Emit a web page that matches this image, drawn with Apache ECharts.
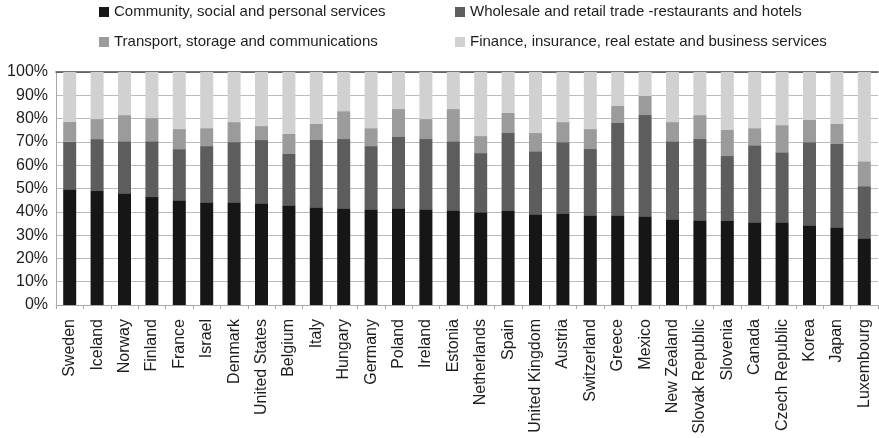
<!DOCTYPE html>
<html>
<head>
<meta charset="utf-8">
<script src="https://cdn.jsdelivr.net/npm/echarts@6/dist/echarts.min.js"></script>
<style>
  html, body { margin: 0; padding: 0; background: #fff; }
  #chart { width: 879px; height: 438px; }
</style>
</head>
<body>
<div id="chart"></div>
<script>
// Countries, ordered by the share of community, social and personal services
const countries = ['Sweden', 'Iceland', 'Norway', 'Finland', 'France', 'Israel', 'Denmark',
  'United States', 'Belgium', 'Italy', 'Hungary', 'Germany', 'Poland', 'Ireland', 'Estonia',
  'Netherlands', 'Spain', 'United Kingdom', 'Austria', 'Switzerland', 'Greece', 'Mexico',
  'New Zealand', 'Slovak Republic', 'Slovenia', 'Canada', 'Czech Republic', 'Korea', 'Japan',
  'Luxembourg'];

// Sector shares (% of total), one value per country
const community = [49.7, 48.9, 48.0, 46.3, 45.0, 44.1, 44.1, 43.7, 42.8, 42.0, 41.5, 41.1, 41.5, 41.1, 40.7,
  39.8, 40.3, 39.0, 39.4, 38.5, 38.5, 38.1, 36.8, 36.4, 36.0, 35.5, 35.5, 34.2, 33.4, 28.7];
const wholesale = [20.4, 22.3, 22.3, 24.0, 21.9, 24.1, 25.8, 27.1, 22.0, 28.8, 29.7, 27.1, 30.6, 30.1, 29.6,
  25.4, 33.5, 27.0, 30.5, 28.4, 39.6, 43.4, 33.5, 34.8, 27.9, 33.1, 30.1, 35.7, 35.7, 22.3];
const transport = [8.6, 8.6, 11.2, 9.9, 8.6, 7.7, 8.6, 6.0, 8.6, 6.9, 12.0, 7.7, 12.0, 8.6, 13.8,
  7.3, 8.6, 7.8, 8.6, 8.6, 7.3, 8.2, 8.2, 10.3, 11.2, 7.3, 11.6, 9.5, 8.6, 10.7];
const finance = [21.3, 20.2, 18.5, 19.8, 24.5, 24.1, 21.5, 23.2, 26.6, 22.3, 16.8, 24.1, 15.9, 20.2, 15.9,
  27.5, 17.6, 26.2, 21.5, 24.5, 14.6, 10.3, 21.5, 18.5, 24.9, 24.1, 22.8, 20.6, 22.3, 38.3];

const yTicks = [0, 10, 20, 30, 40, 50, 60, 70, 80, 90, 100];

const seriesNames = [
  'Community, social and personal services',
  'Wholesale and retail trade -restaurants and hotels',
  'Transport, storage and communications',
  'Finance, insurance, real estate and business services'
];
const seriesData = [community, wholesale, transport, finance];
const colors = ['#161616', '#5d5d5d', '#9b9b9b', '#d0d1d0'];

const FONT = 'Liberation Sans, Arial, sans-serif';
const TEXT = '#1e1e1e';

const legendPos = [
  { left: 99, top: 4 },
  { left: 455, top: 4 },
  { left: 99, top: 34 },
  { left: 455, top: 34 }
];

const chart = echarts.init(document.getElementById('chart'), null, { renderer: 'canvas' });

chart.setOption({
  animation: false,
  backgroundColor: '#fff',
  color: colors,
  legend: seriesNames.map((name, i) => ({
    data: [name],
    left: legendPos[i].left,
    top: legendPos[i].top,
    padding: 0,
    icon: 'rect',
    itemWidth: 10,
    itemHeight: 10,
    selectedMode: false,
    textStyle: { fontFamily: FONT, fontSize: 15, color: TEXT, lineHeight: 16 }
  })),
  grid: { left: 56, right: 1, top: 72, bottom: 133 },
  xAxis: [{
    type: 'category',
    data: countries,
    axisLine: { lineStyle: { color: '#a8a8a8', width: 1 } },
    axisTick: { show: true, length: 4, lineStyle: { color: '#a8a8a8' } },
    axisLabel: {
      rotate: 90,
      interval: 0,
      margin: 14,
      fontFamily: FONT,
      fontSize: 16,
      color: TEXT
    }
  }, {
    type: 'category',
    position: 'top',
    data: countries,
    axisLine: { lineStyle: { color: '#4a4a4a', width: 1.5 } },
    axisTick: { show: false },
    axisLabel: { show: false }
  }],
  yAxis: {
    type: 'value',
    min: yTicks[0],
    max: yTicks[yTicks.length - 1],
    interval: yTicks[1] - yTicks[0],
    axisLine: { show: true, lineStyle: { color: '#a8a8a8' } },
    axisTick: { show: false },
    splitLine: { lineStyle: { color: '#bcbcbc', width: 1.2 } },
    axisLabel: {
      margin: 8,
      fontFamily: FONT,
      fontSize: 16,
      color: TEXT,
      formatter: '{value}%'
    }
  },
  series: seriesNames.map((name, i) => ({
    name: name,
    type: 'bar',
    stack: 'total',
    barWidth: 13,
    data: seriesData[i],
    itemStyle: { color: colors[i] }
  }))
});
</script>
</body>
</html>
